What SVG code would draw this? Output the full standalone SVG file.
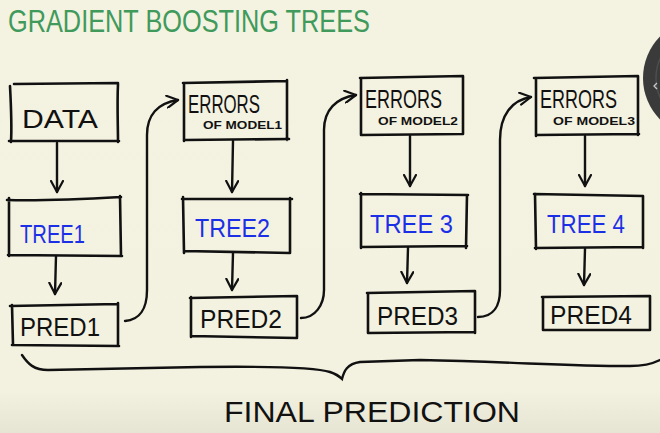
<svg xmlns="http://www.w3.org/2000/svg" width="660" height="433" viewBox="0 0 660 433">
<defs>
<linearGradient id="bg" x1="0" y1="0" x2="0" y2="1">
<stop offset="0" stop-color="#f4f2e1"/>
<stop offset="0.9" stop-color="#f3f1df"/>
<stop offset="1" stop-color="#e6e4d3"/>
</linearGradient>
<marker id="ah" viewBox="0 0 14 14" refX="12" refY="7" markerWidth="14" markerHeight="14" markerUnits="userSpaceOnUse" orient="auto">
<path d="M1,1 L12,7 L1,13" fill="none" stroke="#111" stroke-width="2.2" stroke-linecap="round" stroke-linejoin="round"/>
</marker>
<style>
.box{fill:none;stroke:#111;stroke-width:2.6;stroke-linecap:round;stroke-linejoin:round}
.ln{fill:none;stroke:#111;stroke-width:2.4;stroke-linecap:round}
.t{font-family:"Liberation Sans",Arial,sans-serif;fill:#111}
.big{font-size:26px}
.sm{font-size:10px;font-weight:bold}
.tree{fill:#1b2fe6}
</style>
</defs>
<rect width="660" height="433" fill="url(#bg)"/>
<text x="8" y="32" class="t" style="font-size:32px;fill:#3f9a5b" textLength="362" lengthAdjust="spacingAndGlyphs">GRADIENT BOOSTING TREES</text>

<g id="connectors">
<path class="ln" d="M57,143 L57,192" marker-end="url(#ah)"/>
<path class="ln" d="M56,256 L55,294" marker-end="url(#ah)"/>
<path class="ln" d="M233,141 L232,192" marker-end="url(#ah)"/>
<path class="ln" d="M233,253 L232,290" marker-end="url(#ah)"/>
<path class="ln" d="M410,136 L410,186" marker-end="url(#ah)"/>
<path class="ln" d="M408,248 L407,283" marker-end="url(#ah)"/>
<path class="ln" d="M585,136 L585,186" marker-end="url(#ah)"/>
<path class="ln" d="M585,249 L584,285" marker-end="url(#ah)"/>
<path class="ln" d="M125,321 C140,320 147,308 147,290 L147,135 C147,115 158,103 178,100" marker-end="url(#ah)"/>
<path class="ln" d="M301,318 C315,318 324,305 324,290 L324,130 C324,110 336,98 356,95" marker-end="url(#ah)"/>
<path class="ln" d="M478,317 C494,317 500,305 500,290 L500,140 C500,115 512,100 531,97" marker-end="url(#ah)"/>
<path class="ln" d="M22,355 C28,364 34,370 48,370 L200,367 C280,366 318,368 330,372 C336,374 340,377 342,379 C344,371 347,364 360,362 L420,360 C520,362 560,366 630,366 C645,366 654,363 660,360"/>
</g>

<g id="data">
<path class="box" d="M10,86 C11,105 12,125 11,142 M14,84 L118,83 M118,84 C117,105 118,125 118,142 M9,141 L119,141"/>
<text x="22" y="128" class="t big" textLength="76" lengthAdjust="spacingAndGlyphs">DATA</text>
</g>
<g id="tree1">
<path class="box" d="M9,198 L9,256 M7,200 C45,201 85,199 121,197 M120,196 L121,256 M8,255 L122,256"/>
<text x="20" y="243" class="t big tree" textLength="65" lengthAdjust="spacingAndGlyphs">TREE1</text>
</g>
<g id="pred1">
<path class="box" d="M12,305 L13,345 M10,306 L118,304 M118,303 L118,345 M12,345 L119,346"/>
<text x="20" y="336" class="t big" textLength="80" lengthAdjust="spacingAndGlyphs">PRED1</text>
</g>
<g id="errors1">
<path class="box" d="M184,83 L184,141 M183,83 L286,81 M287,80 L287,140 M185,140 L289,139"/>
<text x="188" y="113" class="t big" textLength="72" lengthAdjust="spacingAndGlyphs">ERRORS</text>
<text x="203" y="129" class="t sm" textLength="79" lengthAdjust="spacingAndGlyphs">OF MODEL1</text>
</g>
<g id="tree2">
<path class="box" d="M183,197 L184,253 M182,199 L292,199 M290,198 L290,253 M184,251 L290,253"/>
<text x="195" y="237" class="t big tree" textLength="75" lengthAdjust="spacingAndGlyphs">TREE2</text>
</g>
<g id="pred2">
<path class="box" d="M191,297 L191,337 M190,298 L297,296 M297,296 L297,337 M191,336 L297,338"/>
<text x="200" y="328" class="t big" textLength="82" lengthAdjust="spacingAndGlyphs">PRED2</text>
</g>
<g id="errors2">
<path class="box" d="M361,78 L361,135 M360,78 L463,76 M463,76 L463,134 M361,135 L463,134"/>
<text x="365" y="108" class="t big" textLength="77" lengthAdjust="spacingAndGlyphs">ERRORS</text>
<text x="378" y="125" class="t sm" textLength="80" lengthAdjust="spacingAndGlyphs">OF MODEL2</text>
</g>
<g id="tree3">
<path class="box" d="M361,193 L361,248 M360,194 L468,195 M467,195 L466,248 M361,247 L467,246"/>
<text x="370" y="233" class="t big tree" textLength="83" lengthAdjust="spacingAndGlyphs">TREE 3</text>
</g>
<g id="pred3">
<path class="box" d="M368,293 L368,333 M367,293 L475,291 M475,291 L475,333 M368,333 L475,332"/>
<text x="377" y="325" class="t big" textLength="81" lengthAdjust="spacingAndGlyphs">PRED3</text>
</g>
<g id="errors3">
<path class="box" d="M536,78 L536,136 M534,78 L638,76 M638,76 L638,135 M536,135 L639,134"/>
<text x="540" y="108" class="t big" textLength="77" lengthAdjust="spacingAndGlyphs">ERRORS</text>
<text x="553" y="125" class="t sm" textLength="82" lengthAdjust="spacingAndGlyphs">OF MODEL3</text>
</g>
<g id="tree4">
<path class="box" d="M535,194 L536,249 M534,194 L643,196 M643,196 L643,248 M535,248 L643,247"/>
<text x="547" y="233" class="t big tree" textLength="78" lengthAdjust="spacingAndGlyphs">TREE 4</text>
</g>
<g id="pred4">
<path class="box" d="M543,297 L543,330 M542,297 L650,296 M650,296 L650,330 M543,330 L650,330"/>
<text x="550" y="324" class="t big" textLength="82" lengthAdjust="spacingAndGlyphs">PRED4</text>
</g>
<text x="224" y="422" class="t" style="font-size:29px" textLength="296" lengthAdjust="spacingAndGlyphs">FINAL PREDICTION</text>

<circle cx="702" cy="78" r="59" fill="#3a3a3a"/>
<circle cx="702" cy="78" r="46" fill="none" stroke="#4d4d4d" stroke-width="1.5"/>
<path d="M657,83 L654,86 L657,89" fill="none" stroke="#c8c8c8" stroke-width="1.3"/>
</svg>
